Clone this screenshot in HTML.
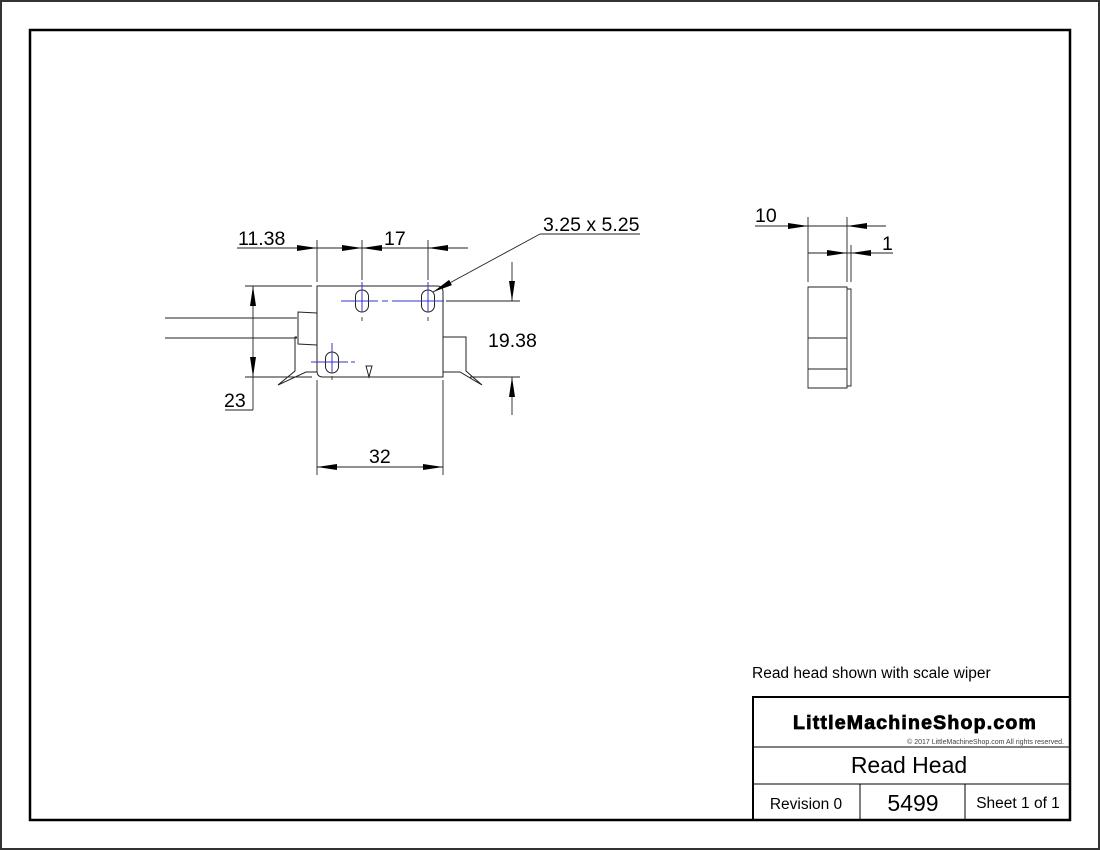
<!DOCTYPE html>
<html><head><meta charset="utf-8"><style>
html,body{margin:0;padding:0;background:#fff;}
svg{display:block;font-family:"Liberation Sans",Arial,sans-serif;}
</style></head><body>
<svg width="1100" height="850" viewBox="0 0 1100 850" xmlns="http://www.w3.org/2000/svg">
<defs>
<marker id="a" viewBox="0 0 20 6" refX="20" refY="3" markerWidth="20" markerHeight="6" markerUnits="userSpaceOnUse" orient="auto"><path d="M0,0 L20,3 L0,6 z" fill="#000"/></marker>
</defs>
<rect x="1" y="1" width="1098" height="848" fill="#fff" stroke="#333" stroke-width="2"/>
<rect x="30" y="30" width="1040" height="790" fill="none" stroke="#000" stroke-width="2.5"/>

<g stroke="#222" stroke-width="1" fill="none">
<path d="M317,286 H437 Q443,286 443,292 V377 H323 Q317,377 317,371 Z"/>
<line x1="165" y1="318" x2="297" y2="318"/>
<line x1="165" y1="338" x2="297" y2="338"/>
<path d="M317,313 L298,312 V344 L317,345"/>
<path d="M297,337 H295 V371 L278,385 L306,372 H317"/>
<path d="M443,337 H466 V371 L482,385 L460,372 H443"/>
<path d="M366,366 L369,377 L372,366 Z"/>
<rect x="355.5" y="290" width="13" height="22" rx="6.5"/>
<rect x="421.5" y="290" width="13" height="22" rx="6.5"/>
<rect x="325.5" y="352" width="13" height="21" rx="6.5"/>
</g>
<g stroke="#33c" stroke-width="1" fill="none">
<line x1="341" y1="301" x2="378" y2="301"/><line x1="362" y1="282" x2="362" y2="312"/>
<line x1="382" y1="301" x2="388" y2="301"/><line x1="392" y1="301" x2="444" y2="301"/><line x1="428" y1="282" x2="428" y2="312"/>
<line x1="311" y1="362" x2="348" y2="362"/><line x1="332" y1="343" x2="332" y2="373"/><line x1="351" y1="362" x2="355" y2="362"/>
</g>
<g stroke="#444" stroke-width="1" fill="none">
<line x1="362" y1="317" x2="362" y2="321"/><line x1="428" y1="317" x2="428" y2="321"/><line x1="332" y1="376" x2="332" y2="380"/>
</g>

<g stroke="#222" stroke-width="0.9" fill="none">
<line x1="317" y1="240" x2="317" y2="282"/>
<line x1="362" y1="240" x2="362" y2="280"/>
<line x1="428" y1="240" x2="428" y2="280"/>
<line x1="237" y1="248" x2="468" y2="248"/>
<line x1="297" y1="248" x2="317" y2="248" marker-end="url(#a)"/>
<line x1="342" y1="248" x2="362" y2="248" marker-end="url(#a)"/>
<line x1="382" y1="248" x2="362" y2="248" marker-end="url(#a)"/>
<line x1="448" y1="248" x2="428" y2="248" marker-end="url(#a)"/>
<line x1="245" y1="286" x2="312" y2="286"/>
<line x1="245" y1="377" x2="312" y2="377"/>
<line x1="253" y1="320" x2="253" y2="286" marker-end="url(#a)"/>
<line x1="253" y1="340" x2="253" y2="377" marker-end="url(#a)"/>
<line x1="253" y1="320" x2="253" y2="340"/>
<line x1="253" y1="377" x2="253" y2="410"/>
<line x1="225" y1="410" x2="253" y2="410"/>
<line x1="446" y1="301" x2="520" y2="301"/>
<line x1="470" y1="377" x2="520" y2="377"/>
<line x1="512" y1="262" x2="512" y2="301" marker-end="url(#a)"/>
<line x1="512" y1="415" x2="512" y2="377" marker-end="url(#a)"/>
<line x1="317" y1="380" x2="317" y2="475"/>
<line x1="443" y1="380" x2="443" y2="475"/>
<line x1="380" y1="467" x2="317" y2="467" marker-end="url(#a)"/>
<line x1="380" y1="467" x2="443" y2="467" marker-end="url(#a)"/>
<polyline points="640,234 540,234"/>
<line x1="540" y1="234" x2="433" y2="292" marker-end="url(#a)"/>

<path d="M808,287 H847 V388 H808 Z"/>
<path d="M847,289 H851 V386 H847"/>
<line x1="808" y1="338" x2="847" y2="338"/>
<line x1="808" y1="369" x2="847" y2="369"/>
<line x1="808" y1="217" x2="808" y2="282"/>
<line x1="847" y1="217" x2="847" y2="282"/>
<line x1="851" y1="245" x2="851" y2="282"/>
<line x1="755" y1="226" x2="886" y2="226"/>
<line x1="788" y1="226" x2="808" y2="226" marker-end="url(#a)"/>
<line x1="867" y1="226" x2="847" y2="226" marker-end="url(#a)"/>
<line x1="808" y1="253" x2="893" y2="253"/>
<line x1="828" y1="253" x2="847" y2="253" marker-end="url(#a)"/>
<line x1="871" y1="253" x2="851" y2="253" marker-end="url(#a)"/>
</g>

<g font-size="19.5" fill="#000">
<text x="238" y="245">11.38</text>
<text x="384" y="245">17</text>
<text x="543" y="231">3.25 x 5.25</text>
<text x="488" y="347">19.38</text>
<text x="224" y="407">23</text>
<text x="369" y="463">32</text>
<text x="755" y="222">10</text>
<text x="882" y="250">1</text>
</g>
<text x="752" y="678" font-size="15.5">Read head shown with scale wiper</text>

<g stroke="#000" fill="none">
<rect x="753" y="697" width="317" height="123" stroke-width="2"/>
<line x1="753" y1="747" x2="1070" y2="747" stroke-width="1"/>
<line x1="753" y1="784" x2="1070" y2="784" stroke-width="1"/>
<line x1="860" y1="784" x2="860" y2="820" stroke-width="1"/>
<line x1="965" y1="784" x2="965" y2="820" stroke-width="1"/>
</g>
<text x="915" y="729" font-size="19.5" font-weight="bold" text-anchor="middle" stroke="#000" stroke-width="0.8" letter-spacing="1.2">LittleMachineShop.com</text>
<text x="1064" y="744" font-size="7" text-anchor="end" fill="#444">© 2017 LittleMachineShop.com  All rights reserved.</text>
<text x="909" y="773" font-size="23" text-anchor="middle">Read Head</text>
<text x="806" y="809" font-size="15.5" text-anchor="middle">Revision 0</text>
<text x="913" y="811" font-size="23" text-anchor="middle">5499</text>
<text x="1018" y="808" font-size="15.5" text-anchor="middle">Sheet 1 of 1</text>
</svg>
</body></html>
